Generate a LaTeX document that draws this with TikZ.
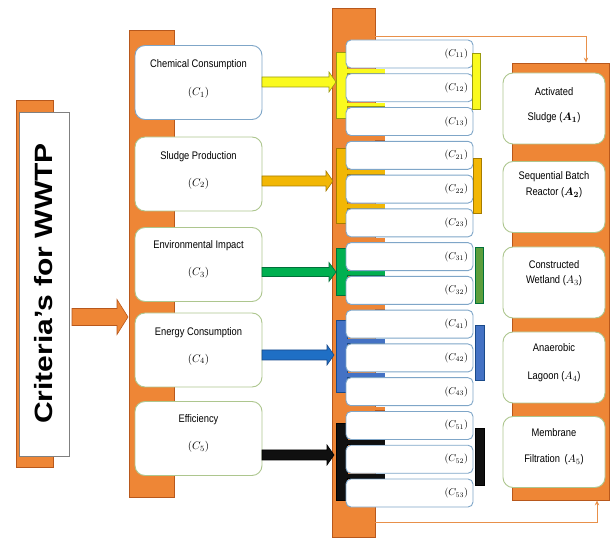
\documentclass[tikz,border=0pt]{standalone}
\usepackage{fontspec}
\setmainfont{Liberation Sans}
\newfontfamily\narrowfont[FakeStretch=0.85]{Liberation Sans}
\usepackage{bm}
\usetikzlibrary{calc,arrows.meta}
\definecolor{orng}{HTML}{EE8636}
\definecolor{orngd}{HTML}{B8581C}
\definecolor{orngl}{HTML}{E8904A}
\definecolor{bluebd}{HTML}{7FA6C8}
\definecolor{greenbd}{HTML}{ADC68E}
\definecolor{yel}{HTML}{FAFA1E}
\definecolor{yeld}{HTML}{9A9A10}
\definecolor{gold}{HTML}{F2B705}
\definecolor{goldd}{HTML}{A67C00}
\definecolor{grn}{HTML}{00B050}
\definecolor{grnd}{HTML}{00703A}
\definecolor{olgrn}{HTML}{5C9E3C}
\definecolor{blu}{HTML}{1F6FC5}
\definecolor{blud}{HTML}{1A4A8A}
\definecolor{blub}{HTML}{4472C4}
\definecolor{blk}{HTML}{101010}
\newcommand\mkblockarrow[8]{%
  \filldraw[fill=#7,draw=#8,line width=0.6pt] (#1,{#4-#5}) -- (#2,{#4-#5}) -- (#2,{#4-#6}) -- (#3,#4) -- (#2,{#4+#6}) -- (#2,{#4+#5}) -- (#1,{#4+#5}) -- cycle;}
\newcommand\mkbracket[6]{% #1 ytop #2 ybot #3 fill #4 draw #5 tab list #6 right bracket top/bot
  \filldraw[fill=#3,draw=#4,line width=0.6pt] (336,#1) rectangle (347,#2);
  \foreach \g in {#5} {\fill[#3] (346,{\g-2}) rectangle (385,{\g+2}); \draw[#4,line width=0.5pt] (347,{\g+2}) -- (385,{\g+2});}}
\begin{document}
\begin{tikzpicture}[x=1pt,y=-1pt,
  orangebar/.style={fill=orng,draw=orngd,line width=0.8pt,inner sep=0pt},
  cbox/.style={draw=greenbd,fill=white,rounded corners=10pt,line width=0.9pt,minimum width=127pt,minimum height=74pt,inner sep=0pt},
  subbox/.style={draw=bluebd,fill=white,rounded corners=5pt,line width=0.9pt,minimum width=127pt,minimum height=28pt,text width=117pt,inner xsep=5pt,inner ysep=0pt,align=right,font=\fontsize{10}{12}\selectfont},
  abox/.style={draw=greenbd,fill=white,rounded corners=10pt,line width=0.9pt,minimum width=102pt,minimum height=71pt,inner sep=0pt},
  lbl/.style={font=\narrowfont\fontsize{11}{13}\selectfont,inner sep=0pt},
  frm/.style={font=\fontsize{11}{13}\selectfont,inner sep=0pt},
  thinlink/.style={draw=orngl,line width=1pt,-{Stealth[length=5pt,width=4.5pt]}}]
\useasboundingbox (0,0) rectangle (614,540);
% criteria column
\node[orangebar,minimum width=37pt,minimum height=367pt] (bar0) at (34.5,283.5) {};
\node[draw=gray,fill=white,line width=0.8pt,minimum width=50pt,minimum height=344pt,inner sep=0pt] (critbox) at (44,284) {};
\node[rotate=90,inner sep=0pt] (crit) at (43.5,283.5) {\scalebox{1.2}[1]{\fontsize{25}{25}\selectfont\bfseries Criteria’s for WWTP}};
\mkblockarrow{72}{117}{128}{317}{8.5}{17.5}{orng}{orngd}
% first bar and criteria boxes
\node[orangebar,minimum width=45pt,minimum height=467pt] (bar1) at (151.5,263.5) {};
\node[cbox,draw=bluebd] (c1) at (198.5,82.5) {};
\node[cbox] (c2) at (198.5,174) {};
\node[cbox] (c3) at (198.5,264.5) {};
\node[cbox] (c4) at (198.5,350) {};
\node[cbox] (c5) at (198.5,438.5) {};
\node[lbl] (c1t) at ($(c1.north)+(0,20)$) {Chemical Consumption};
\node[frm] (c1f) at ($(c1.north)+(0,48)$) {$(C_1)$};
\node[lbl] (c2t) at ($(c2.north)+(0,20)$) {Sludge Production};
\node[frm] (c2f) at ($(c2.north)+(0,47)$) {$(C_2)$};
\node[lbl] (c3t) at ($(c3.north)+(0,19)$) {Environmental Impact};
\node[frm] (c3f) at ($(c3.north)+(0,46)$) {$(C_3)$};
\node[lbl] (c4t) at ($(c4.north)+(0,20)$) {Energy Consumption};
\node[frm] (c4f) at ($(c4.north)+(0,47)$) {$(C_4)$};
\node[lbl] (c5t) at ($(c5.north)+(0,19)$) {Efficiency};
\node[frm] (c5f) at ($(c5.north)+(0,46)$) {$(C_5)$};
% second bar
\node[orangebar,minimum width=43pt,minimum height=529pt] (bar2) at (353.5,272.5) {};
\foreach \g in {138.4,239.8,307.3,408.6} {\fill[orng] (374,{\g-2}) rectangle (385,{\g+2}); \draw[orngd,line width=0.5pt] (375,{\g+2}) -- (385,{\g+2});}
% left brackets
\mkbracket{52}{118}{yel}{yeld}{70.9,104.7}{}
\mkbracket{148}{223}{gold}{goldd}{172.2,206.0}{}
\mkbracket{248}{295}{grn}{grnd}{273.5}{}
\mkbracket{320}{392}{blub}{blud}{341.1,374.8}{}
\mkbracket{423}{500}{blk}{black}{442.4,476.1}{}
% colored arrows
\mkblockarrow{262}{329}{336}{82}{5}{10}{yel}{yeld}
\mkblockarrow{262}{326}{333}{181}{5}{10}{gold}{goldd}
\mkblockarrow{262}{329}{336}{272}{4.5}{9.5}{grn}{grnd}
\mkblockarrow{262}{327}{334}{355}{5}{10}{blu}{blud}
\mkblockarrow{262}{327}{334}{455}{5}{10}{blk}{black}
% sub boxes
\foreach \lab [count=\i from 0] in {11,12,13,21,22,23,31,32,41,42,43,51,52,53} {
  \node[subbox] (s\lab) at (409.5,{54+33.77*\i}) {$(C_{\lab})$};
}
% right brackets
\filldraw[fill=yel,draw=yeld,line width=0.6pt] (472,53) rectangle (480,109);
\filldraw[fill=gold,draw=goldd,line width=0.6pt] (473,158) rectangle (481,213);
\filldraw[fill=olgrn,draw=grnd,line width=0.6pt] (475,247) rectangle (483,303);
\filldraw[fill=blub,draw=blud,line width=0.6pt] (475,325) rectangle (484,380);
\filldraw[fill=blk,draw=black,line width=0.6pt] (475,428) rectangle (484,485);
% alternatives panel
\node[orangebar,minimum width=97pt,minimum height=437pt] (panel) at (560.5,281.5) {};
\node[abox] (a1) at (554,108.5) {};
\node[abox] (a2) at (554,197) {};
\node[abox] (a3) at (554,282.5) {};
\node[abox] (a4) at (554,367.5) {};
\node[abox] (a5) at (554,452) {};
\node[lbl] (a1t) at (554,92) {Activated};
\node[lbl] (a1f) at (554,118) {Sludge ($\bm{A_1}$)};
\node[lbl] (a2t) at (554,177) {Sequential Batch};
\node[lbl] (a2f) at (554,193) {Reactor ($\bm{A_2}$)};
\node[lbl] (a3t) at (554,265) {Constructed};
\node[lbl] (a3f) at (554,281) {Wetland ($A_3$)};
\node[lbl] (a4t) at (554,348) {Anaerobic};
\node[lbl] (a4f) at (554,377) {Lagoon ($A_4$)};
\node[lbl] (a5t) at (554,433) {Membrane};
\node[lbl] (a5f) at (554,460) {Filtration\, ($A_5$)};
% thin links
\coordinate (ttop) at (586,37);
\coordinate (tbot) at (597,522);
\draw[thinlink] (bar2.east |- ttop) -- (ttop) -- (ttop |- panel.north);
\draw[thinlink] (bar2.east |- tbot) -- (tbot) -- (tbot |- panel.south);
\end{tikzpicture}
\end{document}
